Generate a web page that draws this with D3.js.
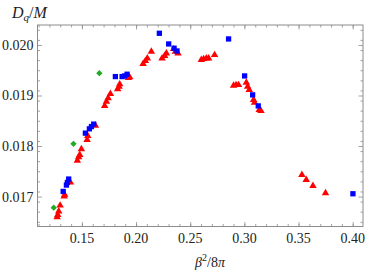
<!DOCTYPE html>
<html>
<head>
<meta charset="utf-8">
<script src="https://cdnjs.cloudflare.com/ajax/libs/d3/7.8.5/d3.min.js"></script>
<style>
  html, body { margin: 0; padding: 0; background: #fff; }
  svg { display: block; }
</style>
</head>
<body>
<div id="chart"></div>
<script>
// Scatter of D_q/M against beta^2/8pi, three series

const redX = [0.1271, 0.1277, 0.1286, 0.1299, 0.1336, 0.1341, 0.1394, 0.1458, 0.1470, 0.1480,
  0.1495, 0.1548, 0.1554, 0.1625, 0.1710, 0.1726, 0.1742, 0.1763, 0.1830, 0.1843,
  0.1849, 0.1929, 0.1941, 0.2065, 0.2086, 0.2104, 0.2141, 0.2240, 0.2264, 0.2280,
  0.2347, 0.2363, 0.2387, 0.2602, 0.2624, 0.2649, 0.2670, 0.2725, 0.2900, 0.2923,
  0.2946, 0.3018, 0.3030, 0.3045, 0.3085, 0.3094, 0.3137, 0.3153, 0.3531, 0.3571,
  0.3633, 0.3749];
const redY = [0.016595, 0.016640, 0.016706, 0.016824, 0.017002, 0.017036, 0.017279, 0.017713, 0.017781, 0.017826,
  0.017939, 0.018123, 0.018202, 0.018405, 0.018794, 0.018879, 0.018947, 0.019032, 0.019125, 0.019176,
  0.019223, 0.019348, 0.019362, 0.019625, 0.019684, 0.019737, 0.019868, 0.019737, 0.019783, 0.019836,
  0.019921, 0.019868, 0.019836, 0.019704, 0.019723, 0.019737, 0.019737, 0.019802, 0.019196, 0.019209,
  0.019209, 0.019255, 0.019176, 0.019111, 0.018913, 0.018860, 0.018715, 0.018696, 0.017431, 0.017332,
  0.017213, 0.017069];

const blueX = [0.1327, 0.1357, 0.1366, 0.1378, 0.1532, 0.1569, 0.1588, 0.1609, 0.1809, 0.1871,
  0.1895, 0.1917, 0.2215, 0.2301, 0.2351, 0.2378, 0.2854, 0.3002, 0.3076, 0.3128, 0.4002];
const blueY = [0.017101, 0.017227, 0.017279, 0.017346, 0.018255, 0.018340, 0.018385, 0.018433, 0.019374, 0.019374,
  0.019387, 0.019421, 0.020231, 0.020020, 0.019935, 0.019881, 0.020119, 0.019387, 0.019012, 0.018794, 0.017055];

const greenX = [0.1240, 0.1422, 0.1661];
const greenY = [0.016779, 0.018043, 0.019441];

const xTicks = [0.15, 0.20, 0.25, 0.30, 0.35, 0.40];
const yTicks = [0.017, 0.018, 0.019, 0.020];

const width = 390, height = 272;
const margin = { left: 37.5, right: 27, top: 25, bottom: 45.5 };
const serif = "'Liberation Serif', 'DejaVu Serif', serif";
const frameColor = "#8c8c8c";

const svg = d3.select("#chart").append("svg")
    .attr("width", width)
    .attr("height", height);

const x = d3.scaleLinear()
    .domain([0.109, 0.4095])
    .range([margin.left, width - margin.right]);

const y = d3.scaleLinear()
    .domain([0.016407, 0.020395])
    .range([height - margin.bottom, margin.top]);

const x0 = margin.left, x1 = width - margin.right;
const y0 = height - margin.bottom, y1 = margin.top;

// minor ticks
const xMinor = d3.range(0.11, 0.41, 0.01).filter(v => v >= 0.109 && v <= 0.4095);
const yMinor = d3.range(0.0165, 0.02041, 0.0002);

function addAxis(axis, tx, ty, size) {
    const g = svg.append("g")
        .attr("transform", `translate(${tx},${ty})`)
        .call(axis.tickSizeInner(size).tickSizeOuter(0));
    g.select(".domain").remove();
    g.selectAll(".tick line").attr("stroke", frameColor).attr("stroke-width", 0.8);
    return g;
}

// bottom
addAxis(d3.axisTop(x).tickValues(xMinor).tickFormat(""), 0, y0, 2.5);
addAxis(d3.axisTop(x).tickValues(xTicks).tickFormat(""), 0, y0, 4.5);
// top
addAxis(d3.axisBottom(x).tickValues(xMinor).tickFormat(""), 0, y1, 2.5);
addAxis(d3.axisBottom(x).tickValues(xTicks).tickFormat(""), 0, y1, 4.5);
// left
addAxis(d3.axisRight(y).tickValues(yMinor).tickFormat(""), x0, 0, 2.5);
addAxis(d3.axisRight(y).tickValues(yTicks).tickFormat(""), x0, 0, 4.5);
// right
addAxis(d3.axisLeft(y).tickValues(yMinor).tickFormat(""), x1, 0, 2.5);
addAxis(d3.axisLeft(y).tickValues(yTicks).tickFormat(""), x1, 0, 4.5);

// frame
svg.append("rect")
    .attr("x", x0).attr("y", y1)
    .attr("width", x1 - x0).attr("height", y0 - y1)
    .attr("fill", "none")
    .attr("stroke", frameColor)
    .attr("stroke-width", 1);

// tick labels
svg.append("g").selectAll("text")
    .data(xTicks)
    .join("text")
    .attr("x", d => x(d))
    .attr("y", y0 + 16)
    .attr("text-anchor", "middle")
    .attr("font-family", serif)
    .attr("font-size", "14px")
    .attr("fill", "#222")
    .text(d => d3.format(".2f")(d));

svg.append("g").selectAll("text")
    .data(yTicks)
    .join("text")
    .attr("x", x0 - 4)
    .attr("y", d => y(d) + 5)
    .attr("text-anchor", "end")
    .attr("font-family", serif)
    .attr("font-size", "14px")
    .attr("fill", "#222")
    .text(d => d3.format(".3f")(d));

// data
const tri = d3.symbol().type(d3.symbolTriangle).size(24);
const sq = d3.symbol().type(d3.symbolSquare).size(28);
const dia = d3.symbol().type(d3.symbolSquare).size(20);

svg.append("g").selectAll("path")
    .data(redX.map((v, i) => [v, redY[i]]))
    .join("path")
    .attr("d", tri)
    .attr("transform", d => `translate(${x(d[0])},${y(d[1])})`)
    .attr("fill", "#ff0000");

svg.append("g").selectAll("path")
    .data(blueX.map((v, i) => [v, blueY[i]]))
    .join("path")
    .attr("d", sq)
    .attr("transform", d => `translate(${x(d[0])},${y(d[1])})`)
    .attr("fill", "#0000ff");

svg.append("g").selectAll("path")
    .data(greenX.map((v, i) => [v, greenY[i]]))
    .join("path")
    .attr("d", dia)
    .attr("transform", d => `translate(${x(d[0])},${y(d[1])}) rotate(45)`)
    .attr("fill", "#22aa22");

// axis titles
const yt = svg.append("text")
    .attr("x", 12)
    .attr("y", 18)
    .attr("font-family", serif)
    .attr("font-size", "16px")
    .attr("fill", "#222");
yt.append("tspan").attr("font-style", "italic").text("D");
yt.append("tspan").attr("font-style", "italic").attr("font-size", "11px").attr("dy", 3).text("q");
yt.append("tspan").attr("dy", -3).text("/");
yt.append("tspan").attr("font-style", "italic").text("M");

const xt = svg.append("text")
    .attr("x", 210)
    .attr("y", 267)
    .attr("text-anchor", "middle")
    .attr("font-family", serif)
    .attr("font-size", "14px")
    .attr("fill", "#222");
xt.append("tspan").attr("font-style", "italic").text("β");
xt.append("tspan").attr("font-size", "10px").attr("dy", -6).text("2");
xt.append("tspan").attr("dy", 6).text("/8");
xt.append("tspan").attr("font-style", "italic").text("π");
</script>
</body>
</html>
